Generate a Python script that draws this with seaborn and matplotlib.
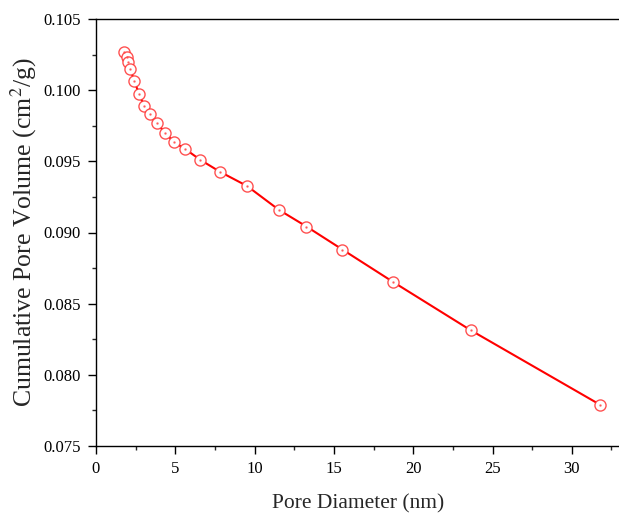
import matplotlib
matplotlib.use("Agg")
import matplotlib.pyplot as plt
import seaborn as sns
import pandas as pd
from matplotlib.ticker import MultipleLocator

# Data
pore_diameter = [1.77, 1.94, 2.00, 2.15, 2.42, 2.72, 3.05, 3.41, 3.85, 4.36, 4.93,
                 5.64, 6.57, 7.81, 9.52, 11.52, 13.27, 15.54, 18.74, 23.63, 31.78]
pore_volume = [0.10270, 0.10235, 0.10196, 0.10149, 0.10064, 0.09971, 0.09886,
               0.09833, 0.09767, 0.09699, 0.09634, 0.09585, 0.09511, 0.09427,
               0.09327, 0.09160, 0.09042, 0.08880, 0.08652, 0.08313, 0.07790]
x_ticks = [0, 5, 10, 15, 20, 25, 30]
y_ticks = [0.075, 0.080, 0.085, 0.090, 0.095, 0.100, 0.105]

df = pd.DataFrame({"d": pore_diameter, "v": pore_volume})

sns.set_style("ticks")
plt.rcParams["font.family"] = ["Liberation Serif", "DejaVu Serif"]
plt.rcParams["mathtext.fontset"] = "stix"

fig = plt.figure(figsize=(6.19, 5.16), dpi=100)
ax = fig.add_axes([96 / 619, 70 / 516, 525 / 619, 427 / 516])

sns.lineplot(data=df, x="d", y="v", ax=ax, sort=False, color="#ff0000",
             linewidth=1.5, marker="o", markersize=8,
             markerfacecolor="white", markeredgecolor=(1, 0.2, 0.2, 0.85),
             markeredgewidth=1.0)
ax.plot(df["d"], df["v"], linestyle="none", marker=".", markersize=1.5,
        color=(1, 0.3, 0.3, 0.8))

ax.set_xlim(0, 33.1)
ax.set_ylim(0.075, 0.105)
ax.set_xticks(x_ticks)
ax.set_yticks(y_ticks)
ax.set_xticklabels([str(t) for t in x_ticks])
ax.set_yticklabels([f"{t:.3f}" for t in y_ticks])
ax.xaxis.set_minor_locator(MultipleLocator(2.5))
ax.yaxis.set_minor_locator(MultipleLocator(0.0025))

ax.tick_params(which="major", direction="out", length=6, width=1.0,
               labelsize=12, colors="black", pad=5)
ax.tick_params(which="minor", direction="out", length=3, width=1.0)
ax.tick_params(top=False, right=False, which="both")

for s in ax.spines.values():
    s.set_linewidth(1.0)
    s.set_color("black")
ax.spines["right"].set_visible(False)

ax.set_xlabel("Pore Diameter (nm)", fontsize=15.5, labelpad=12)
ax.set_ylabel("Cumulative Pore Volume (cm$^2$/g)", fontsize=18.5, labelpad=3)

fig.savefig("out.png", dpi=100)
